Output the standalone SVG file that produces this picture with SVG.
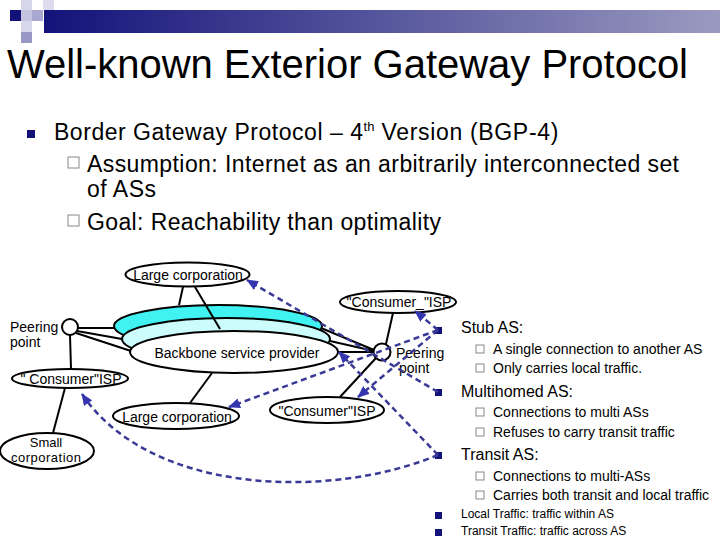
<svg xmlns="http://www.w3.org/2000/svg" width="720" height="540" viewBox="0 0 720 540">
<defs>
<linearGradient id="bar" x1="0" y1="0" x2="1" y2="0">
<stop offset="0" stop-color="#12127a"/>
<stop offset="1" stop-color="#9a9ac0"/>
</linearGradient>
<marker id="ah" markerUnits="userSpaceOnUse" markerWidth="12" markerHeight="10" refX="11" refY="5" orient="auto">
<path d="M0,0 L12,5 L0,10 Z" fill="#3535b0"/>
</marker>
<style>
text{font-family:"Liberation Sans",Arial,sans-serif;fill:#000}
.t14{font-size:14px}
.big{font-size:23px}
.node{fill:#fff;stroke:#000;stroke-width:2}
.sol{stroke:#000;stroke-width:2;fill:none}
.dash{stroke:#3a3a96;stroke-width:2.5;stroke-dasharray:6 4;fill:none;marker-end:url(#ah)}
.bul{fill:#12127a}
.hb{fill:#fff;stroke:#888;stroke-width:1}
</style>
</defs>
<rect width="720" height="540" fill="#fff"/>
<g id="decor">
<rect x="21" y="0" width="11" height="10" fill="#d6d6ea"/>
<rect x="43" y="0" width="11" height="10" fill="#dcdcee"/>
<rect x="10" y="10" width="11" height="11" fill="#12127a"/>
<rect x="21" y="10" width="11" height="11" fill="#c4c4e0"/>
<rect x="32" y="10" width="11" height="11" fill="#a8a8d0"/>
<rect x="21" y="21" width="11" height="11" fill="#d8d8ec"/>
<rect x="21" y="32" width="11" height="11" fill="#9898c4"/>
<rect x="44" y="10" width="676" height="23" fill="url(#bar)"/>
</g>
<text x="7" y="78" style="font-size:40px" textLength="681">Well-known Exterior Gateway Protocol</text>
<rect x="27" y="130" width="8" height="8" class="bul"/>
<text x="54" y="140" class="big"><tspan textLength="309">Border Gateway Protocol – 4</tspan><tspan style="font-size:13px" dy="-9">th</tspan><tspan dy="9" textLength="184"> Version (BGP-4)</tspan></text>
<rect x="68" y="157" width="11" height="11" class="hb"/>
<text x="87" y="172" class="big" textLength="592">Assumption: Internet as an arbitrarily interconnected set</text>
<text x="87" y="197" class="big" textLength="69">of ASs</text>
<rect x="68" y="215" width="11" height="11" class="hb"/>
<text x="87" y="230" class="big" textLength="354">Goal: Reachability than optimality</text>

<g id="backbone">
<ellipse cx="218" cy="326" rx="104" ry="21" fill="#40f2f2" stroke="#000" stroke-width="2"/>
<ellipse cx="226" cy="339" rx="104" ry="21" fill="#ccfcfc" stroke="#000" stroke-width="2"/>
<ellipse cx="234" cy="352" rx="104" ry="21" class="node"/>
<text x="237" y="358" class="t14" text-anchor="middle">Backbone service provider</text>
</g>
<g id="large-corp-top">
<ellipse cx="187.5" cy="274.5" rx="62" ry="12" class="node"/>
<text x="188" y="280" class="t14" text-anchor="middle">Large corporation</text>
</g>
<g id="consumer-isp-top">
<ellipse cx="398" cy="302" rx="58" ry="11" class="node"/>
<text x="399" y="307" class="t14" text-anchor="middle">"Consumer_"ISP</text>
</g>
<g id="peering-left">
<circle cx="70" cy="327" r="8" class="node"/>
<text x="10" y="332" class="t14">Peering</text>
<text x="10" y="347" class="t14">point</text>
</g>
<g id="peering-right">
<circle cx="382" cy="352" r="8.5" class="node"/>
<text x="396" y="358" class="t14">Peering</text>
<text x="399" y="373" class="t14">point</text>
</g>
<g id="consumer-isp-left">
<ellipse cx="70" cy="378.5" rx="58" ry="9.5" class="node"/>
<text x="71" y="384" class="t14" text-anchor="middle">" Consumer"ISP</text>
</g>
<g id="large-corp-bottom">
<ellipse cx="176" cy="416" rx="63" ry="13" class="node"/>
<text x="177" y="422" class="t14" text-anchor="middle">Large corporation</text>
</g>
<g id="consumer-isp-bottom">
<ellipse cx="327" cy="410" rx="57" ry="13" class="node"/>
<text x="327" y="416" class="t14" text-anchor="middle">"Consumer"ISP</text>
</g>
<g id="small-corp">
<ellipse cx="47" cy="451" rx="47" ry="18" class="node"/>
<text x="46" y="447" style="font-size:13px" text-anchor="middle">Small</text>
<text x="46" y="462" style="font-size:13px" text-anchor="middle" textLength="70">corporation</text>
</g>

<g id="legend">
<rect x="435" y="327" width="7" height="7" class="bul"/>
<text x="461" y="333" style="font-size:16px">Stub AS:</text>
<rect x="476" y="345" width="8" height="8" class="hb"/>
<text x="493" y="354" class="t14">A single connection to another AS</text>
<rect x="476" y="364" width="8" height="8" class="hb"/>
<text x="493" y="373" class="t14">Only carries local traffic.</text>
<rect x="435" y="389" width="7" height="7" class="bul"/>
<text x="461" y="397" style="font-size:16px">Multihomed AS:</text>
<rect x="476" y="408" width="8" height="8" class="hb"/>
<text x="493" y="417" class="t14">Connections to multi ASs</text>
<rect x="476" y="428" width="8" height="8" class="hb"/>
<text x="493" y="437" class="t14">Refuses to carry transit traffic</text>
<rect x="435" y="452" width="7" height="7" class="bul"/>
<text x="461" y="460" style="font-size:16px">Transit AS:</text>
<rect x="476" y="472" width="8" height="8" class="hb"/>
<text x="493" y="481" class="t14">Connections to multi-ASs</text>
<rect x="476" y="491" width="8" height="8" class="hb"/>
<text x="493" y="500" class="t14">Carries both transit and local traffic</text>
<rect x="435" y="512" width="7" height="7" class="bul"/>
<text x="461" y="518" style="font-size:12px">Local Traffic: traffic within AS</text>
<rect x="435" y="529" width="7" height="7" class="bul"/>
<text x="461" y="535" style="font-size:12px">Transit Traffic: traffic across AS</text>
</g>

<g id="connectors">
<line x1="183" y1="287" x2="179" y2="305" class="sol"/>
<line x1="195" y1="287" x2="220" y2="329" class="sol"/>
<line x1="78" y1="328" x2="114" y2="328" class="sol"/>
<line x1="77" y1="331" x2="122" y2="339" class="sol"/>
<line x1="76" y1="333" x2="131" y2="351" class="sol"/>
<line x1="70" y1="335" x2="71" y2="369" class="sol"/>
<line x1="65" y1="388" x2="53" y2="433" class="sol"/>
<line x1="212" y1="373" x2="190" y2="403" class="sol"/>
<line x1="321" y1="328" x2="374" y2="350" class="sol"/>
<line x1="330" y1="341" x2="374" y2="351" class="sol"/>
<line x1="338" y1="352" x2="374" y2="352" class="sol"/>
<line x1="386" y1="344" x2="393" y2="313" class="sol"/>
<line x1="376" y1="358" x2="340" y2="397" class="sol"/>

<line x1="438" y1="392" x2="247" y2="280" class="dash"/>
<line x1="438" y1="330" x2="415" y2="311" class="dash"/>
<line x1="438" y1="330" x2="358" y2="397" class="dash"/>
<line x1="438" y1="330" x2="229" y2="407" class="dash"/>
<line x1="438" y1="455" x2="339" y2="352" class="dash"/>
<path d="M438,455 C330,500 150,495 82,394" class="dash"/>
</g>
</svg>
